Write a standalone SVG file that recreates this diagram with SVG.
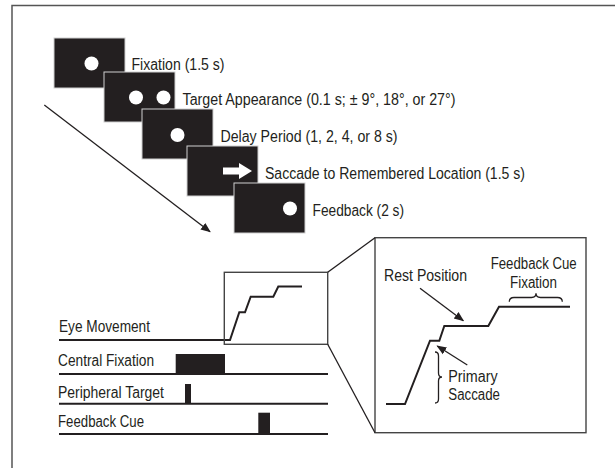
<svg xmlns="http://www.w3.org/2000/svg" width="615" height="468" viewBox="0 0 615 468">
<style>
text{font-family:"Liberation Sans",Arial,sans-serif;font-size:16px;fill:#231f20}
.scr{fill:#231f20;stroke:#cfcfcf;stroke-width:1}
.dot{fill:#fff}
.tl{stroke:#231f20;stroke-width:2;fill:none}
.bar{fill:#231f20}
.box{fill:none;stroke:#444;stroke-width:1.4}
.trace{fill:none;stroke:#231f20;stroke-width:2;stroke-linejoin:miter}
.con{fill:none;stroke:#231f20;stroke-width:1.3}
</style>
<defs>
<marker id="ah2" viewBox="0 0 10 10" refX="9" refY="5" markerWidth="10" markerHeight="10" orient="auto" markerUnits="userSpaceOnUse">
<path d="M0,1 L10,5 L0,9 z" fill="#231f20"/>
</marker>
</defs>
<rect width="615" height="468" fill="#fff"/>
<path d="M12,468 V5.5 H615" fill="none" stroke="#555" stroke-width="1.5"/>

<g id="screen-fixation">
<rect class="scr" x="54" y="38" width="71" height="50"/>
<circle class="dot" cx="91.5" cy="63.5" r="7"/>
<text x="131.5" y="70" textLength="93" lengthAdjust="spacingAndGlyphs">Fixation (1.5 s)</text>
</g>
<g id="screen-target">
<rect class="scr" x="104" y="72" width="71" height="50"/>
<circle class="dot" cx="136" cy="97.5" r="7"/>
<circle class="dot" cx="163.5" cy="97.5" r="7"/>
<text x="182.5" y="105" textLength="273" lengthAdjust="spacingAndGlyphs">Target Appearance (0.1 s; ± 9°, 18°, or 27°)</text>
</g>
<g id="screen-delay">
<rect class="scr" x="142" y="109" width="71" height="50"/>
<circle class="dot" cx="177.5" cy="135" r="7"/>
<text x="220.5" y="142" textLength="177" lengthAdjust="spacingAndGlyphs">Delay Period (1, 2, 4, or 8 s)</text>
</g>
<g id="screen-saccade">
<rect class="scr" x="187" y="146" width="71" height="50"/>
<path class="dot" d="M223,167.5 H239 V163 L252,171 L239,179 V174.5 H223 z"/>
<text x="265" y="179" textLength="260" lengthAdjust="spacingAndGlyphs">Saccade to Remembered Location (1.5 s)</text>
</g>
<g id="screen-feedback">
<rect class="scr" x="234" y="183" width="71" height="50"/>
<circle class="dot" cx="290" cy="208.5" r="7"/>
<text x="312.5" y="215.5" textLength="91.5" lengthAdjust="spacingAndGlyphs">Feedback (2 s)</text>
</g>

<g id="timeline-eye">
<text x="59" y="331.5" textLength="91" lengthAdjust="spacingAndGlyphs">Eye Movement</text>
<path class="trace" d="M59,340 H230 L239.3,312.3 H245 L250.7,296.7 H273.3 L278.3,286.5 H302"/>
</g>
<g id="timeline-central">
<text x="58" y="366" textLength="96" lengthAdjust="spacingAndGlyphs">Central Fixation</text>
<path class="tl" d="M59,374 H328"/>
<rect class="bar" x="175.7" y="354" width="49.3" height="20"/>
</g>
<g id="timeline-peripheral">
<text x="58" y="397.5" textLength="106" lengthAdjust="spacingAndGlyphs">Peripheral Target</text>
<path class="tl" d="M59,403.7 H328"/>
<rect class="bar" x="185" y="384" width="6" height="19.7"/>
</g>
<g id="timeline-feedback">
<text x="58" y="426.5" textLength="86" lengthAdjust="spacingAndGlyphs">Feedback Cue</text>
<path class="tl" d="M59,434 H328"/>
<rect class="bar" x="258.3" y="412.7" width="11.7" height="21.3"/>
</g>

<g id="zoom-box">
<rect class="box" x="224.3" y="272.3" width="103.4" height="72"/>
</g>

<g id="inset">
<rect class="box" x="375" y="237.7" width="211" height="195"/>
<path class="trace" stroke-width="2.3" d="M386,404 H405 L430,340.7 H439.3 L444.3,326 H488.3 L499,306.7 H570"/>
<text x="384" y="280.7" textLength="83" lengthAdjust="spacingAndGlyphs">Rest Position</text>
<text x="490.7" y="269" textLength="86" lengthAdjust="spacingAndGlyphs">Feedback Cue</text>
<text x="510" y="287.7" textLength="47" lengthAdjust="spacingAndGlyphs">Fixation</text>
<path class="con" d="M509.3,301.7 Q509.3,297.5 514,297.5 H531.5 Q536,297.5 536,293.3 Q536,297.5 540.5,297.5 H557.5 Q562.3,297.5 562.3,301.7"/>
<path class="con" d="M435,352 Q438.5,352 438.5,356 V373 Q438.5,377 442,377 Q438.5,377 438.5,381 V399 Q438.5,403 435,403"/>
<text x="448.3" y="382.3" textLength="49.3" lengthAdjust="spacingAndGlyphs">Primary</text>
<text x="448.3" y="400" textLength="51.7" lengthAdjust="spacingAndGlyphs">Saccade</text>
</g>

<g id="connectors">
<path class="con" d="M44.3,105 L210,231.7" marker-end="url(#ah2)"/>
<path class="con" d="M327.7,272.3 L375,237.7"/>
<path class="con" d="M327.7,344.3 L375,432.7"/>
<path class="con" stroke-width="1.6" d="M420,288.3 L463.3,320.7" marker-end="url(#ah2)"/>
<path class="con" stroke-width="1.6" d="M467.3,365 L437.3,346" marker-end="url(#ah2)"/>
</g>
</svg>
